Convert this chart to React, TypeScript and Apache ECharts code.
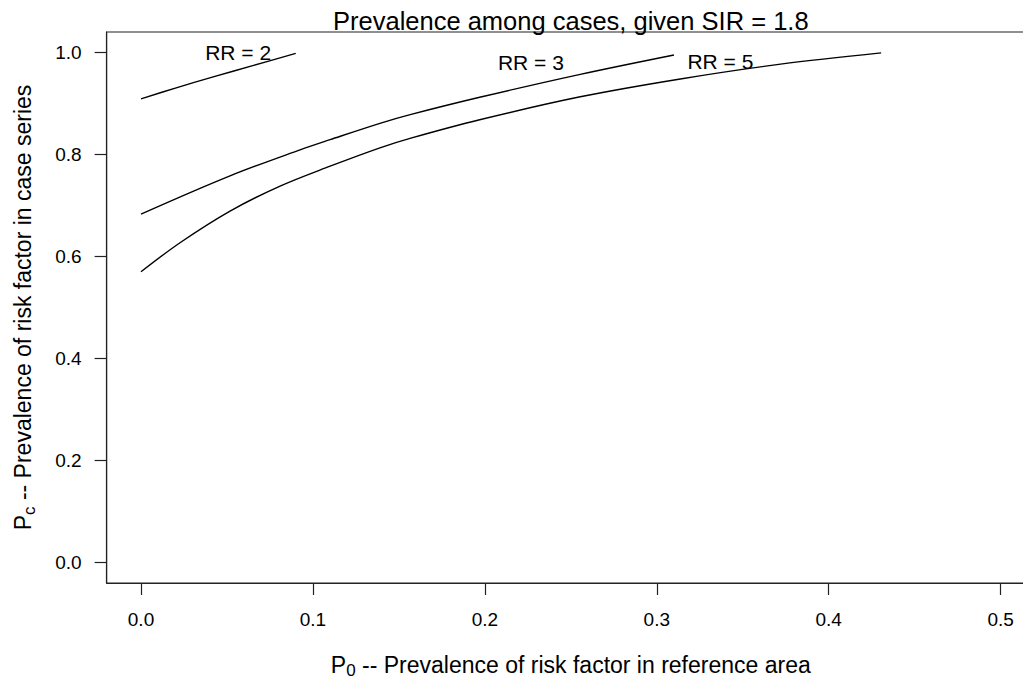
import React, { useEffect, useRef } from "react";
import * as echarts from "echarts";

// ---- data ----
const P0_RR2 = [0, 0.02, 0.042, 0.065, 0.09];
const PC_RR2 = [0.909, 0.93, 0.952, 0.974, 0.998];

const P0_RR3 = [0, 0.0518, 0.0925, 0.11, 0.139, 0.1566, 0.197, 0.2555, 0.31];
const PC_RR3 = [0.683, 0.758, 0.809, 0.829, 0.861, 0.878, 0.912, 0.957, 0.995];

const P0_RR5 = [0, 0.0227, 0.0518, 0.0809, 0.11, 0.139, 0.157, 0.197, 0.2555, 0.3137, 0.372, 0.4305];
const PC_RR5 = [0.57, 0.627, 0.689, 0.738, 0.777, 0.813, 0.832, 0.868, 0.913, 0.948, 0.977, 0.999];

const LABEL_X = [0.0565, 0.2268, 0.337];
const LABEL_Y = [1.0, 0.981, 0.983];
const LABEL_TEXT = ["RR = 2", "RR = 3", "RR = 5"];

const X_TICKS = [0, 0.1, 0.2, 0.3, 0.4, 0.5];
const Y_TICKS = [0, 0.2, 0.4, 0.6, 0.8, 1.0];

const TITLE = "Prevalence among cases, given SIR = 1.8";
const X_NAME_MAIN = "P";
const X_NAME_SUB = "0";
const X_NAME_REST = " -- Prevalence of risk factor in reference area";
const Y_NAME_MAIN = "P";
const Y_NAME_SUB = "c";
const Y_NAME_REST = " -- Prevalence of risk factor in case series";

const FONT = "'Liberation Sans', Arial, Helvetica, sans-serif";

const zip = (xs: number[], ys: number[]) => xs.map((x, i) => [x, ys[i]]);

const GRID_LEFT = 106.6;
const GRID_TOP = 32;
const GRID_W = 928.4;
const GRID_H = 551;

const richName = {
  p: { fontSize: 23, lineHeight: 23, verticalAlign: "top", color: "#000", fontFamily: FONT },
  s: { fontSize: 17, lineHeight: 17, verticalAlign: "top", padding: [9, 0, 0, 0], color: "#000", fontFamily: FONT },
};

export default function App() {
  const ref = useRef<HTMLDivElement>(null);
  useEffect(() => {
    if (!ref.current) return;
    const chart = echarts.init(ref.current, undefined, { renderer: "svg" });
    const lineStyle = { color: "#000", width: 1.4 };
    const mkLine = (data: number[][]) => ({
      type: "line",
      data,
      showSymbol: false,
      symbol: "none",
      smooth: 0.35,
      lineStyle,
      silent: true,
    });
    const axisLineStyle = { color: "#222", width: 1.2 };
    chart.setOption({
      animation: false,
      backgroundColor: "#fff",
      textStyle: { fontFamily: FONT },
      grid: {
        left: GRID_LEFT,
        top: GRID_TOP,
        width: GRID_W,
        height: GRID_H,
        show: true,
        borderColor: "#222",
        borderWidth: 1.2,
        backgroundColor: "transparent",
        containLabel: false,
        outerBoundsMode: "none",
      },
      graphic: [
        {
          type: "text",
          x: GRID_LEFT + GRID_W / 2,
          y: 20.5,
          style: {
            text: TITLE,
            font: `25.5px ${FONT}`,
            fill: "#000",
            align: "center",
            verticalAlign: "middle",
          },
        },
      ],
      xAxis: {
        type: "value",
        min: -0.02,
        max: 0.52,
        axisLine: { show: true, onZero: false, lineStyle: axisLineStyle },
        axisTick: { show: true, customValues: X_TICKS, length: 12, lineStyle: axisLineStyle },
        axisLabel: {
          customValues: X_TICKS,
          formatter: (v: number) => v.toFixed(1),
          color: "#000",
          fontSize: 19,
          fontFamily: FONT,
          margin: 27,
        },
        splitLine: { show: false },
        name: `{p|${X_NAME_MAIN}}{s|${X_NAME_SUB}}{p|${X_NAME_REST}}`,
        nameLocation: "middle",
        nameGap: 70,
        nameTextStyle: { rich: richName, verticalAlign: "top" },
      },
      yAxis: {
        type: "value",
        min: -0.04,
        max: 1.04,
        axisLine: { show: true, onZero: false, lineStyle: axisLineStyle },
        axisTick: { show: true, customValues: Y_TICKS, length: 12, lineStyle: axisLineStyle },
        axisLabel: {
          customValues: Y_TICKS,
          formatter: (v: number) => v.toFixed(1),
          color: "#000",
          fontSize: 19,
          fontFamily: FONT,
          margin: 25,
        },
        splitLine: { show: false },
        name: `{p|${Y_NAME_MAIN}}{s|${Y_NAME_SUB}}{p|${Y_NAME_REST}}`,
        nameLocation: "middle",
        nameGap: 72,
        nameRotate: 90,
        nameTextStyle: { rich: richName },
      },
      series: [
        mkLine(zip(P0_RR2, PC_RR2)),
        mkLine(zip(P0_RR3, PC_RR3)),
        mkLine(zip(P0_RR5, PC_RR5)),
        {
          type: "scatter",
          symbolSize: 0,
          silent: true,
          data: LABEL_X.map((x, i) => ({ value: [x, LABEL_Y[i]], name: LABEL_TEXT[i] })),
          label: {
            show: true,
            position: "inside",
            formatter: (p: any) => p.name,
            color: "#000",
            textBorderWidth: 0,
            opacity: 1,
            fontSize: 21,
            fontFamily: FONT,
          },
        },
      ],
    });
    return () => chart.dispose();
  }, []);
  return (
    <div
      ref={ref}
      style={{ position: "absolute", left: 0, top: 0, width: 1023, height: 679, background: "#fff" }}
    />
  );
}
